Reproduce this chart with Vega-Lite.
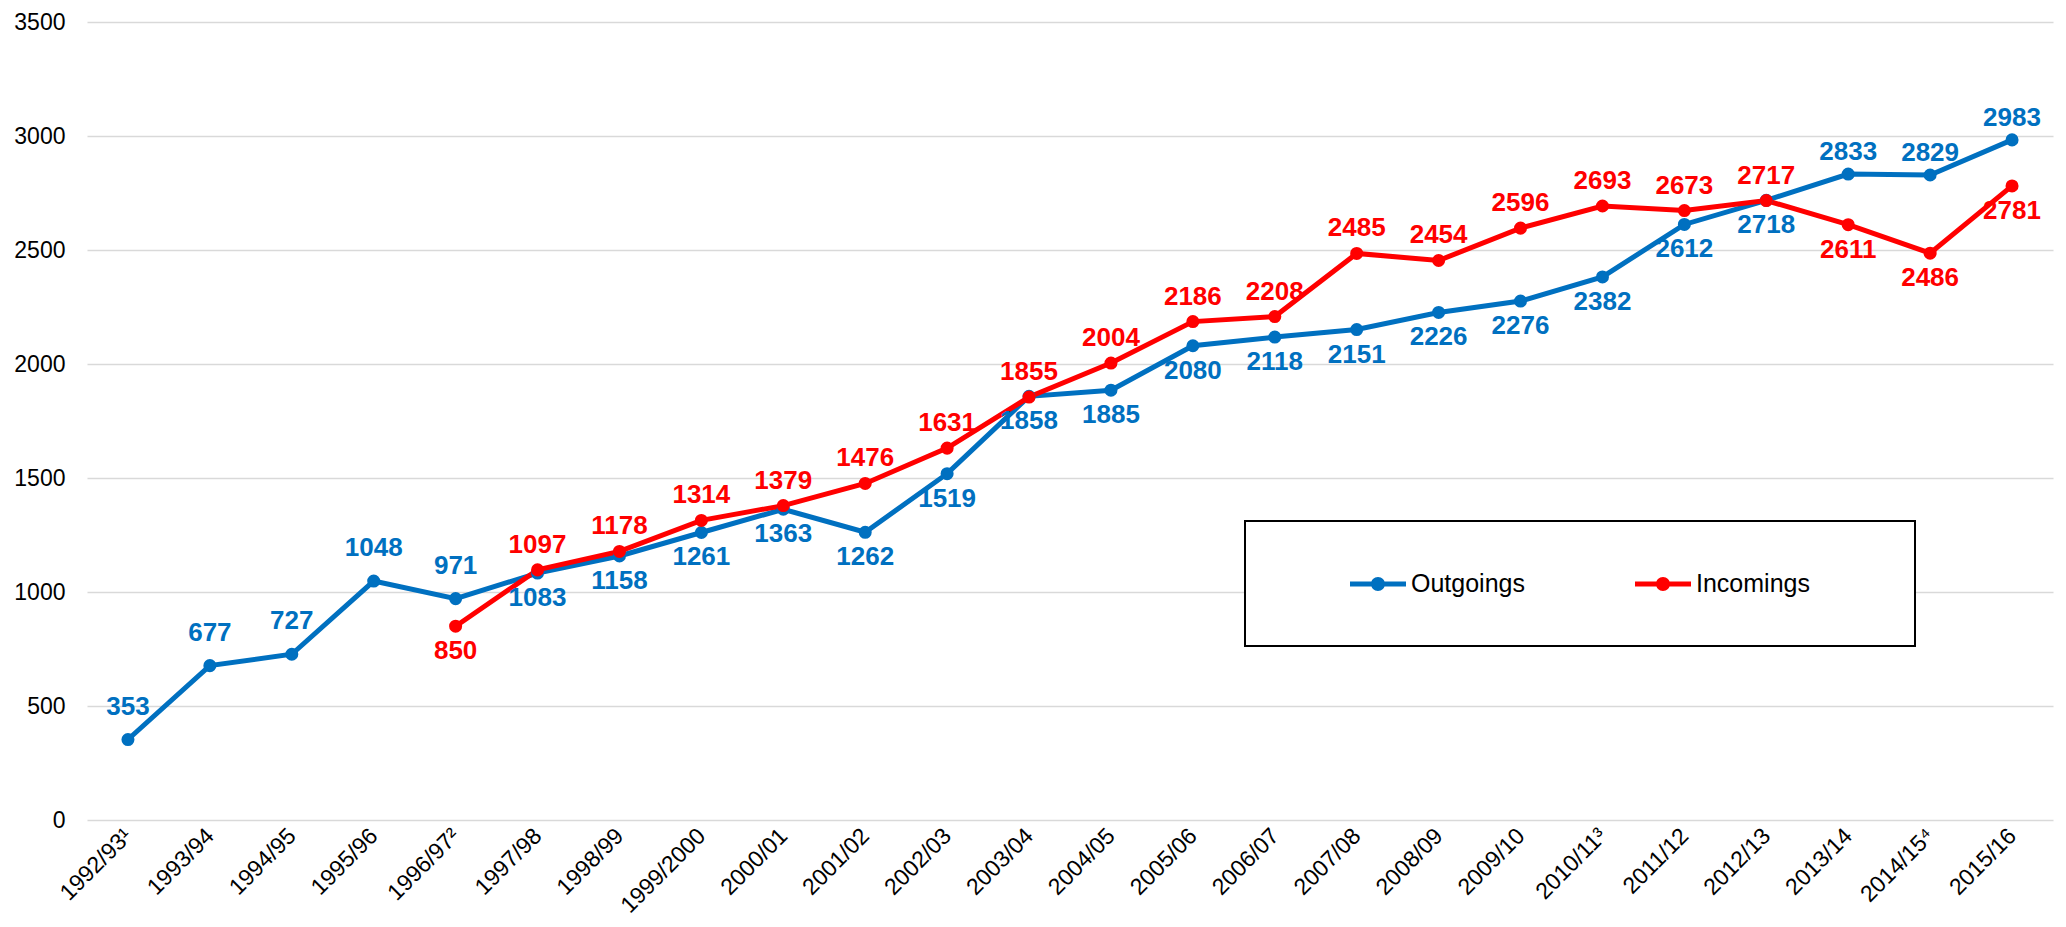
{
  "$schema": "https://vega.github.io/schema/vega-lite/v6.json",
  "width": 1966,
  "height": 798,
  "autosize": {"type": "none"},
  "padding": {"left": 87, "top": 22, "right": 13, "bottom": 107},
  "background": "white",
  "config": {"view": {"stroke": null}, "font": "Liberation Sans"},
  "data": {
    "values": [
      {"year": "1992/93¹", "series": "Outgoings", "value": 353},
      {"year": "1993/94", "series": "Outgoings", "value": 677},
      {"year": "1994/95", "series": "Outgoings", "value": 727},
      {"year": "1995/96", "series": "Outgoings", "value": 1048},
      {"year": "1996/97²", "series": "Outgoings", "value": 971},
      {"year": "1997/98", "series": "Outgoings", "value": 1083},
      {"year": "1998/99", "series": "Outgoings", "value": 1158},
      {"year": "1999/2000", "series": "Outgoings", "value": 1261},
      {"year": "2000/01", "series": "Outgoings", "value": 1363},
      {"year": "2001/02", "series": "Outgoings", "value": 1262},
      {"year": "2002/03", "series": "Outgoings", "value": 1519},
      {"year": "2003/04", "series": "Outgoings", "value": 1858},
      {"year": "2004/05", "series": "Outgoings", "value": 1885},
      {"year": "2005/06", "series": "Outgoings", "value": 2080},
      {"year": "2006/07", "series": "Outgoings", "value": 2118},
      {"year": "2007/08", "series": "Outgoings", "value": 2151},
      {"year": "2008/09", "series": "Outgoings", "value": 2226},
      {"year": "2009/10", "series": "Outgoings", "value": 2276},
      {"year": "2010/11³", "series": "Outgoings", "value": 2382},
      {"year": "2011/12", "series": "Outgoings", "value": 2612},
      {"year": "2012/13", "series": "Outgoings", "value": 2718},
      {"year": "2013/14", "series": "Outgoings", "value": 2833},
      {"year": "2014/15⁴", "series": "Outgoings", "value": 2829},
      {"year": "2015/16", "series": "Outgoings", "value": 2983},
      {"year": "1996/97²", "series": "Incomings", "value": 850},
      {"year": "1997/98", "series": "Incomings", "value": 1097},
      {"year": "1998/99", "series": "Incomings", "value": 1178},
      {"year": "1999/2000", "series": "Incomings", "value": 1314},
      {"year": "2000/01", "series": "Incomings", "value": 1379},
      {"year": "2001/02", "series": "Incomings", "value": 1476},
      {"year": "2002/03", "series": "Incomings", "value": 1631},
      {"year": "2003/04", "series": "Incomings", "value": 1855},
      {"year": "2004/05", "series": "Incomings", "value": 2004},
      {"year": "2005/06", "series": "Incomings", "value": 2186},
      {"year": "2006/07", "series": "Incomings", "value": 2208},
      {"year": "2007/08", "series": "Incomings", "value": 2485},
      {"year": "2008/09", "series": "Incomings", "value": 2454},
      {"year": "2009/10", "series": "Incomings", "value": 2596},
      {"year": "2010/11³", "series": "Incomings", "value": 2693},
      {"year": "2011/12", "series": "Incomings", "value": 2673},
      {"year": "2012/13", "series": "Incomings", "value": 2717},
      {"year": "2013/14", "series": "Incomings", "value": 2611},
      {"year": "2014/15⁴", "series": "Incomings", "value": 2486},
      {"year": "2015/16", "series": "Incomings", "value": 2781}
    ]
  },
  "encoding": {
    "x": {
      "field": "year",
      "type": "ordinal",
      "sort": null,
      "scale": {"type": "point", "padding": 0.5},
      "axis": {
        "title": null,
        "domain": false,
        "ticks": false,
        "grid": false,
        "labelAngle": -45,
        "labelAlign": "right",
        "labelBaseline": "middle",
        "labelFontSize": 23,
        "labelColor": "#000000",
        "labelPadding": 12
      }
    },
    "y": {
      "field": "value",
      "type": "quantitative",
      "scale": {"domain": [0, 3500]},
      "axis": {
        "title": null,
        "values": [0, 500, 1000, 1500, 2000, 2500, 3000, 3500],
        "format": "d",
        "domain": false,
        "ticks": false,
        "grid": true,
        "gridColor": "#d9d9d9",
        "gridWidth": 1.5,
        "labelFontSize": 23,
        "labelColor": "#000000",
        "labelPadding": 22
      }
    },
    "color": {
      "field": "series",
      "type": "nominal",
      "scale": {"domain": ["Outgoings", "Incomings"], "range": ["#0070C0", "#FF0000"]},
      "legend": {
        "orient": "none",
        "legendX": 1158,
        "legendY": 499,
        "direction": "horizontal",
        "title": "\u00a0",
        "titleOrient": "right",
        "titleFontSize": 10,
        "titlePadding": 56,
        "padding": 49,
        "strokeColor": "#000000",
        "fillColor": "white",
        "symbolType": "M-2,-0.18H2V0.18H-2Z M0.5,0A0.5,0.5 0 1,1 -0.5,0A0.5,0.5 0 1,1 0.5,0Z",
        "symbolSize": 784,
        "symbolOffset": 70,
        "symbolStrokeWidth": 0,
        "labelFontSize": 25,
        "labelOffset": 19,
        "labelColor": "#000000",
        "columnPadding": 54,
        "encode": {
          "legend": {"update": {"strokeWidth": {"value": 2}}},
          "symbols": {
            "update": {
              "fill": {"scale": "color", "field": "value"},
              "fillOpacity": {"value": 1},
              "strokeWidth": {"value": 0}
            }
          }
        }
      }
    }
  },
  "layer": [
    {
      "mark": {"type": "line", "strokeWidth": 5, "point": {"filled": true, "size": 170, "opacity": 1}}
    },
    {
      "transform": [
        {"filter": "datum.series == 'Outgoings' && indexof(['1992/93¹','1993/94','1994/95','1995/96','1996/97²'], datum.year) >= 0"}
      ],
      "mark": {"type": "text", "dy": -33, "fontSize": 26, "fontWeight": "bold", "baseline": "middle"},
      "encoding": {"text": {"field": "value", "type": "quantitative"}}
    },
    {
      "transform": [
        {"filter": "datum.series == 'Outgoings' && indexof(['2013/14','2014/15⁴','2015/16'], datum.year) >= 0"}
      ],
      "mark": {"type": "text", "dy": -22, "fontSize": 26, "fontWeight": "bold", "baseline": "middle"},
      "encoding": {"text": {"field": "value", "type": "quantitative"}}
    },
    {
      "transform": [
        {"filter": "datum.series == 'Incomings' && indexof(['1996/97²','2013/14','2014/15⁴','2015/16'], datum.year) < 0"}
      ],
      "mark": {"type": "text", "dy": -25, "fontSize": 26, "fontWeight": "bold", "baseline": "middle"},
      "encoding": {"text": {"field": "value", "type": "quantitative"}}
    },
    {
      "transform": [
        {"filter": "!((datum.series == 'Outgoings' && indexof(['1992/93¹','1993/94','1994/95','1995/96','1996/97²','2013/14','2014/15⁴','2015/16'], datum.year) >= 0) || (datum.series == 'Incomings' && indexof(['1996/97²','2013/14','2014/15⁴','2015/16'], datum.year) < 0))"}
      ],
      "mark": {"type": "text", "dy": 25, "fontSize": 26, "fontWeight": "bold", "baseline": "middle"},
      "encoding": {"text": {"field": "value", "type": "quantitative"}}
    }
  ]
}
